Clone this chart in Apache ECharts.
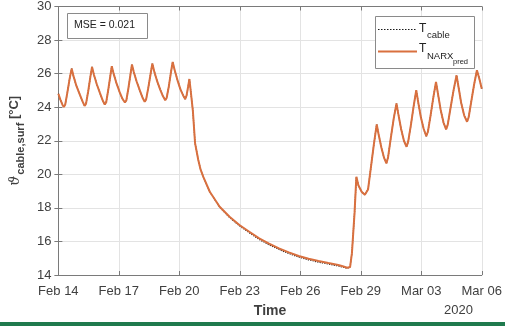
<!DOCTYPE html>
<html>
<head>
<meta charset="utf-8">
<script src="https://cdn.jsdelivr.net/npm/echarts@6/dist/echarts.min.js"></script>
<style>
  html, body { margin: 0; padding: 0; background: #ffffff; }
  #chart { width: 505px; height: 326px; }
</style>
</head>
<body>
<div id="chart"></div>
<script>
// Time in days since Feb 14, 2020 00:00
const days = [
  0.00, 0.10, 0.20, 0.27, 0.34, 0.45, 0.56, 0.66, 0.75, 0.90, 1.05, 1.20,
  1.30, 1.37, 1.48, 1.58, 1.67, 1.76, 1.91, 2.06, 2.20,
  2.30, 2.37, 2.47, 2.57, 2.65, 2.74, 2.89, 3.04, 3.18,
  3.30, 3.37, 3.47, 3.57, 3.65, 3.74, 3.89, 4.04, 4.17,
  4.28, 4.35, 4.46, 4.57, 4.66, 4.75, 4.90, 5.05, 5.19,
  5.30, 5.37, 5.48, 5.58, 5.67, 5.76, 5.91, 6.06, 6.19,
  6.29, 6.36, 6.44, 6.50, 6.58, 6.67, 6.78, 6.94, 7.05, 7.19, 7.51,
  8.00, 8.49, 8.98, 9.47, 9.96, 10.45, 10.94, 11.43, 11.92, 12.41,
  12.90, 13.39, 13.88, 14.10, 14.33, 14.40, 14.47, 14.56, 14.69, 14.78,
  14.88, 15.05, 15.20, 15.28, 15.36, 15.50, 15.65, 15.79, 15.88, 16.02, 16.15,
  16.27, 16.35, 16.48, 16.63, 16.77, 16.86, 17.00, 17.14,
  17.27, 17.35, 17.48, 17.62, 17.75, 17.84, 17.98, 18.12,
  18.25, 18.33, 18.46, 18.60, 18.73, 18.82, 18.96, 19.10,
  19.23, 19.31, 19.45, 19.60, 19.75, 19.84, 19.98, 20.13,
  20.27, 20.35, 20.48, 20.62, 20.76, 20.88, 21.00
];

// NARX prediction of the cable surface temperature [°C]
const tPred = [
  24.80, 24.45, 24.15, 24.02, 24.15, 24.90, 25.70, 26.30, 25.85, 25.25, 24.80, 24.35,
  24.08, 24.20, 24.95, 25.75, 26.40, 25.95, 25.35, 24.85, 24.40,
  24.16, 24.28, 25.00, 25.80, 26.44, 26.00, 25.40, 24.90, 24.50,
  24.28, 24.40, 25.10, 25.90, 26.54, 26.10, 25.50, 25.00, 24.58,
  24.32, 24.45, 25.15, 25.95, 26.60, 26.15, 25.55, 25.05, 24.65,
  24.42, 24.55, 25.25, 26.05, 26.70, 26.25, 25.60, 25.05, 24.70,
  24.48, 24.70, 25.25, 25.68, 24.80, 23.80, 21.86, 20.85, 20.30, 19.85, 18.96,
  18.07, 17.47, 16.98, 16.58, 16.18, 15.87, 15.59, 15.35, 15.13, 14.97,
  14.83, 14.71, 14.60, 14.52, 14.43, 14.42, 14.48, 15.30, 17.70, 19.85,
  19.35, 18.95, 18.78, 18.72, 19.10, 20.40, 21.80, 22.97, 22.40, 21.60, 21.00,
  20.65, 21.00, 22.10, 23.30, 24.22, 23.60, 22.70, 22.00,
  21.64, 21.95, 22.90, 24.05, 25.01, 24.35, 23.40, 22.70,
  22.27, 22.55, 23.50, 24.60, 25.50, 24.85, 23.85, 23.10,
  22.67, 22.95, 23.95, 25.00, 25.90, 25.25, 24.25, 23.50,
  23.13, 23.40, 24.35, 25.35, 26.20, 25.70, 25.10
];

// Measured cable surface temperature [°C]
const tCable = [
  24.80, 24.45, 24.15, 24.02, 24.15, 24.90, 25.70, 26.30, 25.85, 25.25, 24.80, 24.35,
  24.08, 24.20, 24.95, 25.75, 26.40, 25.95, 25.35, 24.85, 24.40,
  24.16, 24.28, 25.00, 25.80, 26.44, 26.00, 25.40, 24.90, 24.50,
  24.28, 24.40, 25.10, 25.90, 26.54, 26.10, 25.50, 25.00, 24.58,
  24.32, 24.45, 25.15, 25.95, 26.60, 26.15, 25.55, 25.05, 24.65,
  24.42, 24.55, 25.25, 26.05, 26.70, 26.25, 25.60, 25.05, 24.70,
  24.48, 24.70, 25.25, 25.68, 24.80, 23.80, 21.86, 20.85, 20.30, 19.85, 18.96,
  18.05, 17.43, 16.93, 16.52, 16.12, 15.80, 15.52, 15.28, 15.07, 14.90,
  14.77, 14.65, 14.54, 14.47, 14.40, 14.40, 14.48, 15.30, 17.70, 19.85,
  19.35, 18.95, 18.78, 18.72, 19.10, 20.40, 21.80, 22.97, 22.40, 21.60, 21.00,
  20.65, 21.00, 22.10, 23.30, 24.22, 23.60, 22.70, 22.00,
  21.64, 21.95, 22.90, 24.05, 25.01, 24.35, 23.40, 22.70,
  22.27, 22.55, 23.50, 24.60, 25.50, 24.85, 23.85, 23.10,
  22.67, 22.95, 23.95, 25.00, 25.90, 25.25, 24.25, 23.50,
  23.13, 23.40, 24.35, 25.35, 26.20, 25.70, 25.10
];

const xTickLabels = ['Feb 14', 'Feb 17', 'Feb 20', 'Feb 23', 'Feb 26', 'Feb 29', 'Mar 03', 'Mar 06'];
const yTicks = [14, 16, 18, 20, 22, 24, 26, 28, 30];
const mseText = 'MSE = 0.021';

const ORANGE = '#D9703F';
const TEXT = '#404040';
const FRAME = '#7a7a7a';
const FONT = 'Liberation Sans, Arial, sans-serif';

const pair = (xs, ys) => xs.map((x, i) => [x, ys[i]]);

const chart = echarts.init(document.getElementById('chart'), null, { renderer: 'canvas' });

const frameAxis = {
  axisLine: { show: true, lineStyle: { color: FRAME, width: 1 } },
  axisTick: { show: true, inside: true, length: 4, lineStyle: { color: FRAME } },
  axisLabel: { show: false },
  splitLine: { show: false }
};

chart.setOption({
  animation: false,
  backgroundColor: '#ffffff',
  grid: { left: 56, right: 20, top: 6, bottom: 51, containLabel: false },
  xAxis: [
    {
      type: 'value', min: 0, max: 21, interval: 3,
      name: 'Time', nameLocation: 'middle', nameGap: 29,
      nameTextStyle: { color: TEXT, fontFamily: FONT, fontSize: 14, fontWeight: 'bold' },
      axisLine: { show: true, lineStyle: { color: FRAME } },
      axisTick: { show: true, inside: true, length: 4, lineStyle: { color: FRAME } },
      axisLabel: {
        color: TEXT, fontFamily: FONT, fontSize: 13, margin: 10,
        formatter: v => xTickLabels[Math.round(v / 3)]
      },
      splitLine: { show: true, lineStyle: { color: '#e3e3e3', width: 1 } }
    },
    Object.assign({ type: 'value', position: 'top', min: 0, max: 21, interval: 3 }, frameAxis)
  ],
  yAxis: [
    {
      type: 'value', min: 14, max: 30, interval: 2,
      name: '{v|ϑ}{s|cable,surf}{u| [°C]}',
      nameLocation: 'middle', nameRotate: 90, nameGap: 30,
      nameTextStyle: {
        color: TEXT, fontFamily: FONT,
        rich: {
          v: { fontSize: 14, fontStyle: 'italic', fontFamily: 'DejaVu Serif', color: TEXT, verticalAlign: 'top', padding: [0, 1, 0, 0] },
          s: { fontSize: 11, fontWeight: 'bold', fontFamily: FONT, color: TEXT, verticalAlign: 'top', padding: [7, 0, 0, 0] },
          u: { fontSize: 13, fontWeight: 'bold', fontFamily: FONT, color: TEXT, verticalAlign: 'top', padding: [0, 0, 0, 0] }
        }
      },
      axisLine: { show: true, lineStyle: { color: FRAME } },
      axisTick: { show: true, inside: true, length: 4, lineStyle: { color: FRAME } },
      axisLabel: {
        color: TEXT, fontFamily: FONT, fontSize: 13, margin: 7,
        formatter: v => (yTicks.indexOf(v) >= 0 ? String(v) : '')
      },
      splitLine: { show: true, lineStyle: { color: '#e3e3e3', width: 1 } }
    },
    Object.assign({ type: 'value', position: 'right', min: 14, max: 30, interval: 2 }, frameAxis)
  ],
  series: [
    {
      name: 'T cable', type: 'line', data: pair(days, tCable),
      showSymbol: false, z: 2,
      lineStyle: { color: '#1a1a1a', width: 1.2, type: 'dotted' }
    },
    {
      name: 'T NARX pred', type: 'line', data: pair(days, tPred),
      showSymbol: false, z: 3,
      lineStyle: { color: ORANGE, width: 2 }
    }
  ],
  graphic: [
    // MSE annotation box
    {
      type: 'rect', left: 67, top: 13, z: 10,
      shape: { width: 80, height: 25 },
      style: { fill: '#ffffff', stroke: '#8a8a8a', lineWidth: 1 }
    },
    {
      type: 'text', left: 74, top: 20, z: 11,
      style: { text: mseText, fill: '#222', font: '10.5px ' + FONT }
    },
    // legend
    {
      type: 'rect', left: 375, top: 16, z: 10,
      shape: { width: 99, height: 52 },
      style: { fill: '#ffffff', stroke: '#8a8a8a', lineWidth: 1 }
    },
    {
      type: 'line', z: 11,
      shape: { x1: 378, y1: 29.5, x2: 417, y2: 29.5 },
      style: { stroke: '#1a1a1a', lineWidth: 1.2, lineDash: [1.5, 1.5] }
    },
    {
      type: 'line', z: 11,
      shape: { x1: 378, y1: 51.5, x2: 417, y2: 51.5 },
      style: { stroke: ORANGE, lineWidth: 2 }
    },
    { type: 'text', left: 419, top: 23, z: 11, style: { text: 'T', fill: '#222', font: '12px ' + FONT } },
    { type: 'text', left: 427, top: 30, z: 11, style: { text: 'cable', fill: '#222', font: '9.5px ' + FONT } },
    { type: 'text', left: 419, top: 43, z: 11, style: { text: 'T', fill: '#222', font: '12px ' + FONT } },
    { type: 'text', left: 427, top: 51, z: 11, style: { text: 'NARX', fill: '#222', font: '9.5px ' + FONT } },
    { type: 'text', left: 453, top: 58, z: 11, style: { text: 'pred', fill: '#222', font: '7.5px ' + FONT } },
    // year marker under the time axis
    { type: 'text', left: 444, top: 304, z: 11, style: { text: '2020', fill: TEXT, font: '13px ' + FONT } },
    // bottom band
    {
      type: 'rect', left: 0, top: 322, z: 11,
      shape: { width: 505, height: 4 },
      style: { fill: '#1F7A4D' }
    }
  ]
});
</script>
</body>
</html>
